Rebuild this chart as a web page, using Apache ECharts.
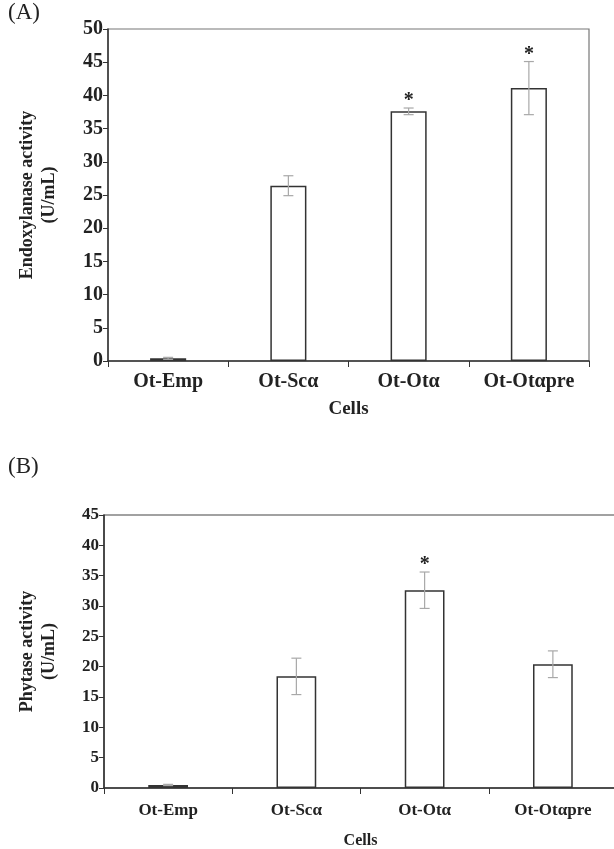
<!DOCTYPE html>
<html><head><meta charset="utf-8">
<script src="https://cdn.jsdelivr.net/npm/echarts@6/dist/echarts.min.js"></script>
<style>html,body{margin:0;padding:0;background:#fff}#c{width:614px;height:849px}</style>
</head><body><div id="c"></div>
<script>
var categories = ['Ot-Emp', 'Ot-Scα', 'Ot-Otα', 'Ot-Otαpre'];
var xylanase = [0.4, 26.4, 37.6, 41.1];
var xylanaseErr = [0.15, 1.5, 0.5, 4.0];
var xylanaseStar = [false, false, true, true];
var phytase = [0.5, 18.4, 32.6, 20.4];
var phytaseErr = [0.1, 3.0, 3.0, 2.2];
var phytaseStar = [false, false, true, false];

var FONT = '"Liberation Serif","Times New Roman",serif';
var chart = echarts.init(document.getElementById('c'), null, {renderer: 'canvas'});

function errSeries(idx, vals, errs, stars, cap, sfs) {
  return {
    type: 'custom', xAxisIndex: idx, yAxisIndex: idx, z: 5,
    data: vals.map(function (v, i) { return [i, v, errs[i], stars[i] ? 1 : 0]; }),
    renderItem: function (params, api) {
      var i = api.value(0), v = api.value(1), e = api.value(2), s = api.value(3);
      var top = api.coord([i, v + e]);
      var bot = api.coord([i, v - e]);
      var st = {stroke: '#a8a8a8', lineWidth: 1.2};
      var ch = [
        {type: 'line', shape: {x1: top[0], y1: top[1], x2: bot[0], y2: bot[1]}, style: st},
        {type: 'line', shape: {x1: top[0] - cap, y1: top[1], x2: top[0] + cap, y2: top[1]}, style: st},
        {type: 'line', shape: {x1: bot[0] - cap, y1: bot[1], x2: bot[0] + cap, y2: bot[1]}, style: st}
      ];
      if (s) {
        ch.push({type: 'text', style: {x: top[0], y: top[1] + 3, text: '*', fill: '#222',
          font: 'bold ' + sfs + 'px ' + FONT, textAlign: 'center', textVerticalAlign: 'bottom'}});
      }
      return {type: 'group', children: ch};
    }
  };
}

function yAxis(idx, max, name, nfs, lfs, gap) {
  return {
    type: 'value', gridIndex: idx, min: 0, max: max, interval: 5,
    name: name, nameLocation: 'middle', nameGap: gap, nameRotate: 90,
    nameTextStyle: {fontFamily: FONT, fontWeight: 'bold', fontSize: nfs, color: '#222', lineHeight: nfs + 4},
    axisLine: {show: true, lineStyle: {color: '#333', width: 1.5}},
    axisTick: {show: true, length: 5, lineStyle: {color: '#333'}},
    axisLabel: {fontFamily: FONT, fontWeight: 'bold', fontSize: lfs, color: '#222', margin: 5},
    splitLine: {show: false}
  };
}
function xAxis(idx, nfs, lfs, gap, margin) {
  return {
    type: 'category', gridIndex: idx, data: categories,
    name: 'Cells', nameLocation: 'middle', nameGap: gap,
    nameTextStyle: {fontFamily: FONT, fontWeight: 'bold', fontSize: nfs, color: '#222'},
    axisLine: {show: true, lineStyle: {color: '#333', width: 1.5}},
    axisTick: {show: true, length: 6, alignWithLabel: false, lineStyle: {color: '#333'}},
    axisLabel: {interval: 0, hideOverlap: false, fontFamily: FONT, fontWeight: 'bold', fontSize: lfs, color: '#222', margin: margin}
  };
}

chart.setOption({
  animation: false,
  backgroundColor: '#fff',
  graphic: [
    {type: 'text', left: 8, top: 1, style: {text: '(A)', font: '23px ' + FONT, fill: '#222'}},
    {type: 'text', left: 8, top: 455, style: {text: '(B)', font: '23px ' + FONT, fill: '#222'}}
  ],
  grid: [
    {left: 108, right: 25, top: 29, bottom: 488, containLabel: false, outerBoundsMode: 'none', show: true, borderColor: '#777', borderWidth: 1.2},
    {left: 104, right: -3, top: 515, bottom: 61, containLabel: false, outerBoundsMode: 'none', show: true, borderColor: '#444', borderWidth: 1.2}
  ],
  xAxis: [xAxis(0, 19, 20, 39, 11), xAxis(1, 16, 17, 45, 14)],
  yAxis: [yAxis(0, 50, 'Endoxylanase activity\n(U/mL)', 18, 20, 48), yAxis(1, 45, 'Phytase activity\n(U/mL)', 18, 17, 44)],
  series: [
    {type: 'bar', xAxisIndex: 0, yAxisIndex: 0, data: xylanase, barWidth: '30%',
      itemStyle: {color: '#fff', borderColor: '#333', borderWidth: 1.5}},
    errSeries(0, xylanase, xylanaseErr, xylanaseStar, 5, 20),
    {type: 'bar', xAxisIndex: 1, yAxisIndex: 1, data: phytase, barWidth: '31%',
      itemStyle: {color: '#fff', borderColor: '#333', borderWidth: 1.5}},
    errSeries(1, phytase, phytaseErr, phytaseStar, 5, 20)
  ]
});
</script></body></html>
